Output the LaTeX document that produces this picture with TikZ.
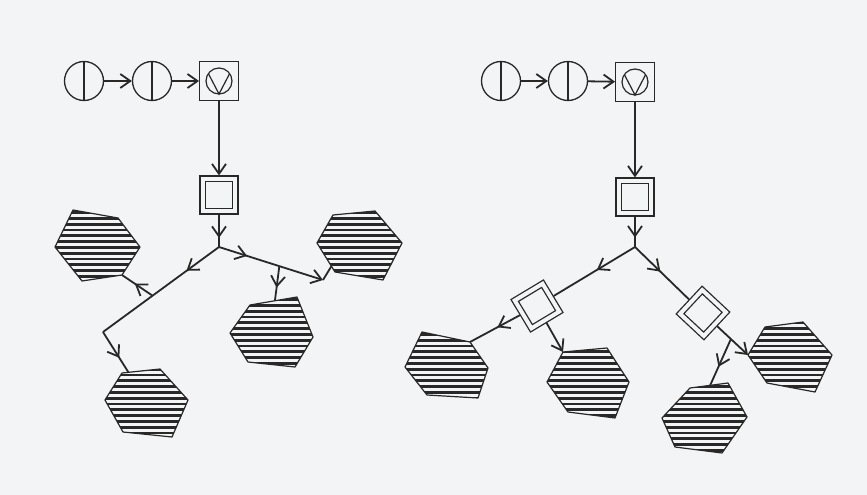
\documentclass[tikz,border=0pt]{standalone}
\usetikzlibrary{arrows.meta,decorations.markings,calc}
\definecolor{paper}{RGB}{242,244,246}
\definecolor{ink}{RGB}{40,40,40}

\tikzset{
  wire/.style={draw=ink, line width=1.8pt, line join=round},
  endarrow/.style={-{Straight Barb[length=10pt,width=14pt]}},
  midarrow/.style={postaction={decorate, decoration={markings,
      mark=at position #1 with {\arrow[ink]{Straight Barb[length=10pt,width=14pt]}}}}},
  disc/.style={circle, draw=ink, line width=1.3pt, minimum size=39pt, inner sep=0pt,
    path picture={\draw[ink, line width=1.2pt] (path picture bounding box.north) -- (path picture bounding box.south);}},
  valve/.style={rectangle, draw=ink, line width=1.4pt, minimum size=38.5pt, inner sep=0pt,
    path picture={
      \draw[ink, line width=1.2pt] (path picture bounding box.center) circle (13pt);
      \draw[ink, line width=1.2pt]
        ($(path picture bounding box.center)+(145:13pt)$) --
        ($(path picture bounding box.center)+(270:13pt)$) --
        ($(path picture bounding box.center)+(35:13pt)$);}},
  dbox/.style={rectangle, draw=ink, line width=1.3pt, double=paper, double distance=4pt,
    minimum size=32.5pt, inner sep=0pt, outer sep=3.3pt},
  hexrim/.style={draw=ink, line width=1.2pt, line join=round},
  hatch/.style={draw=ink, line width=2.8pt}
}

% hatched hexagon: name, then its six corners (top-left, top-right, right,
% bottom-right, bottom-left, left); corners become name-1 ... name-6
\newcommand\hexcell[7]{%
  \coordinate (#1-1) at (#2);
  \coordinate (#1-2) at (#3);
  \coordinate (#1-3) at (#4);
  \coordinate (#1-4) at (#5);
  \coordinate (#1-5) at (#6);
  \coordinate (#1-6) at (#7);
  \begin{scope}
    \clip (#1-1) -- (#1-2) -- (#1-3) -- (#1-4) -- (#1-5) -- (#1-6) -- cycle;
    \foreach \yy in {201,206.8,...,470} \draw[hatch] (0,\yy) -- (867,\yy);
  \end{scope}
  \draw[hexrim] (#1-1) -- (#1-2) -- (#1-3) -- (#1-4) -- (#1-5) -- (#1-6) -- cycle;
}

\begin{document}
\begin{tikzpicture}[x=1pt,y=-1pt]
\fill[paper] (0,0) rectangle (867,495);
\useasboundingbox (0,0) rectangle (867,495);

% ---------- left network ----------
\node[disc]  (a1) at (84,81) {};
\node[disc]  (a2) at (152,81) {};
\node[valve] (a3) at (219,81) {};
\node[dbox]  (a4) at (219,195) {};
\coordinate (aj)  at (219,247);
\coordinate (ab1) at (103,332);
\coordinate (ab2) at (323,280);

\hexcell{ha}{73,210}{118,218}{140,247}{122,275}{82,281}{55,247}
\hexcell{hb}{333,215}{375,211}{402,243}{383,280}{335,272}{317,243}
\hexcell{hc}{250,305}{297,297}{313,337}{295,367}{248,362}{230,333}
\hexcell{hd}{122,373}{160,369}{188,400}{172,437}{123,432}{105,400}

\coordinate (ap1) at ($(aj)!0.573!(ab1)$);
\coordinate (ap2) at ($(aj)!0.58!(ab2)$);
\coordinate (hd-in) at ($(hd-1)!0.17!(hd-2)$);
\coordinate (hb-in) at ($(hb-6)!0.8!(hb-5)$);
\coordinate (hc-in) at ($(hc-1)!0.53!(hc-2)$);

\draw[wire, endarrow] (a1) -- (a2);
\draw[wire, endarrow] (a2) -- (a3);
\draw[wire, endarrow] (a3) -- (a4);
\draw[wire, midarrow=0.72] (a4) -- (aj);
\draw[wire, midarrow=0.28] (aj) -- (ab1);
\draw[wire, midarrow=0.64] (ab1) -- (hd-in);
\draw[wire, midarrow=0.58] (ap1) -- (ha-4);
\draw[wire, midarrow=0.27, endarrow] (aj) -- (ab2);
\draw[wire] (ab2) -- (hb-in);
\draw[wire, midarrow=0.62] (ap2) -- (hc-in);

% ---------- right network ----------
\node[disc]  (b1) at (501,81) {};
\node[disc]  (b2) at (568,81) {};
\node[valve] (b3) at (635,82) {};
\node[dbox]  (b4) at (635,197) {};
\coordinate (bj) at (635,247);
\node[dbox, rotate=31]  (b5) at (537,306) {};
\node[dbox, rotate=-43] (b6) at (703,313) {};

\hexcell{he}{422,332}{470,342}{488,368}{478,398}{427,395}{405,367}
\hexcell{hf}{563,352}{607,348}{629,382}{615,418}{568,412}{547,382}
\hexcell{hg}{765,327}{803,322}{832,355}{815,392}{767,383}{748,355}
\hexcell{hh}{690,388}{728,383}{747,417}{722,453}{675,447}{662,418}

\coordinate (bp) at ($(b6)!0.62!(hg-6)$);
\coordinate (hh-in) at ($(hh-1)!0.53!(hh-2)$);

\draw[wire, endarrow] (b1) -- (b2);
\draw[wire, endarrow] (b2) -- (b3);
\draw[wire, endarrow] (b3) -- (b4);
\draw[wire, midarrow=0.69] (b4) -- (bj);
\draw[wire, midarrow=0.47] (bj) -- (b5);
\draw[wire, midarrow=0.47] (bj) -- (b6);
\draw[wire, midarrow=0.45] (b5) -- (he-2);
\draw[wire, endarrow] (b5) -- (hf-1);
\draw[wire, endarrow] (b6) -- (hg-6);
\draw[wire, midarrow=0.6] (bp) -- (hh-in);
\end{tikzpicture}
\end{document}
